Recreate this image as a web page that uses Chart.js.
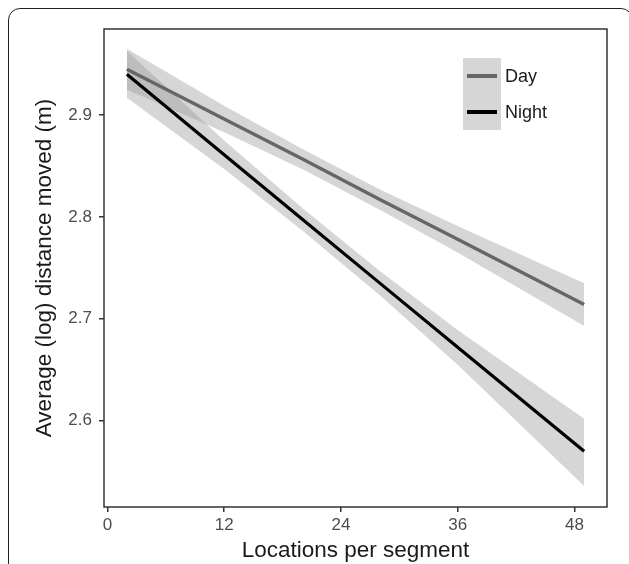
<!DOCTYPE html>
<html>
<head>
<meta charset="utf-8">
<script src="https://cdn.jsdelivr.net/npm/chart.js@4"></script>
<style>
  body { margin: 0; background: #fff; }
  #frame {
    position: absolute; left: 8px; top: 8px; width: 625px; height: 800px;
    box-sizing: border-box; border: 1.8px solid #222; border-radius: 12px;
  }
  #wrap { position: absolute; left: 0; top: 0; width: 629px; height: 564px; }
</style>
</head>
<body>
<div id="frame"></div>
<div id="wrap"><canvas id="fitChart" width="629" height="564"></canvas></div>
<script>
// Fitted lines with 95% bands
const locations = [2, 12, 20, 28, 36, 49];

const dayFit = [2.945, 2.896, 2.857, 2.817, 2.778, 2.714];
const dayLo  = [2.925, 2.883, 2.847, 2.807, 2.765, 2.693];
const dayHi  = [2.965, 2.909, 2.867, 2.827, 2.791, 2.735];

const nightFit = [2.940, 2.861, 2.798, 2.735, 2.672, 2.570];
const nightLo  = [2.917, 2.847, 2.787, 2.723, 2.655, 2.536];
const nightHi  = [2.963, 2.875, 2.809, 2.747, 2.689, 2.602];

const xTicks = [0, 12, 24, 36, 48];
const yTicks = [2.6, 2.7, 2.8, 2.9];

const bandFill = 'rgba(153, 153, 153, 0.4)';
const dayColor = '#666666';
const nightColor = '#000000';
const fontFamily = '"Liberation Sans", Arial, sans-serif';

function pts(ys) {
  return locations.map((x, i) => ({ x: x, y: ys[i] }));
}

// panel border on all four sides + legend
const panelPlugin = {
  id: 'panel',
  afterDraw(chart) {
    const { ctx, chartArea: a } = chart;
    ctx.save();
    ctx.strokeStyle = '#333333';
    ctx.lineWidth = 1.5;
    ctx.strokeRect(a.left, a.top, a.right - a.left, a.bottom - a.top);

    // legend keys
    ctx.fillStyle = bandFill;
    ctx.fillRect(463, 58, 38, 72);
    const keys = [
      { label: 'Day', color: dayColor, y: 76 },
      { label: 'Night', color: nightColor, y: 112 }
    ];
    ctx.font = '18px ' + fontFamily;
    ctx.textBaseline = 'middle';
    ctx.textAlign = 'left';
    keys.forEach(k => {
      ctx.strokeStyle = k.color;
      ctx.lineWidth = 4;
      ctx.beginPath();
      ctx.moveTo(467, k.y);
      ctx.lineTo(497, k.y);
      ctx.stroke();
      ctx.fillStyle = '#1a1a1a';
      ctx.fillText(k.label, 505, k.y + 1);
    });
    ctx.restore();
  }
};

const ctx = document.getElementById('fitChart').getContext('2d');
const fitChart = new Chart(ctx, {
  type: 'line',
  data: {
    datasets: [
      { label: 'Night', data: pts(nightFit), borderColor: nightColor, borderWidth: 3.2, pointRadius: 0, fill: false },
      { label: 'Day', data: pts(dayFit), borderColor: dayColor, borderWidth: 3.4, pointRadius: 0, fill: false },
      { label: 'Day upper', data: pts(dayHi), borderWidth: 0, pointRadius: 0, backgroundColor: bandFill, fill: '+1' },
      { label: 'Day lower', data: pts(dayLo), borderWidth: 0, pointRadius: 0, fill: false },
      { label: 'Night upper', data: pts(nightHi), borderWidth: 0, pointRadius: 0, backgroundColor: bandFill, fill: '+1' },
      { label: 'Night lower', data: pts(nightLo), borderWidth: 0, pointRadius: 0, fill: false }
    ]
  },
  options: {
    responsive: false,
    animation: false,
    devicePixelRatio: 1,
    layout: { padding: { left: 0, top: 29, right: 22, bottom: 0 } },
    plugins: {
      legend: { display: false },
      tooltip: { enabled: false }
    },
    scales: {
      x: {
        type: 'linear',
        min: -0.35,
        max: 51.35,
        afterBuildTicks: s => { s.ticks = xTicks.map(v => ({ value: v })); },
        afterFit: s => { s.height = 57; },
        grid: { drawOnChartArea: false, drawTicks: true, tickLength: 5, color: '#333333', lineWidth: 1.5 },
        border: { display: false },
        ticks: { padding: 3, color: '#4d4d4d', font: { family: fontFamily, size: 17 }, maxRotation: 0 },
        title: {
          display: true, text: 'Locations per segment', color: '#1a1a1a',
          font: { family: fontFamily, size: 22.5 }, padding: { top: 0, bottom: 0 }
        }
      },
      y: {
        min: 2.5153,
        max: 2.9844,
        afterBuildTicks: s => { s.ticks = yTicks.map(v => ({ value: v })); },
        afterFit: s => { s.width = 104; },
        grid: { drawOnChartArea: false, drawTicks: true, tickLength: 5, color: '#333333', lineWidth: 1.5 },
        border: { display: false },
        ticks: {
          padding: 7, color: '#4d4d4d', font: { family: fontFamily, size: 17 },
          callback: v => v.toFixed(1)
        },
        title: {
          display: true, text: 'Average (log) distance moved (m)', color: '#1a1a1a',
          font: { family: fontFamily, size: 22.5 }, padding: { top: 31, bottom: 0 }
        }
      }
    }
  },
  plugins: [panelPlugin]
});
</script>
</body>
</html>
